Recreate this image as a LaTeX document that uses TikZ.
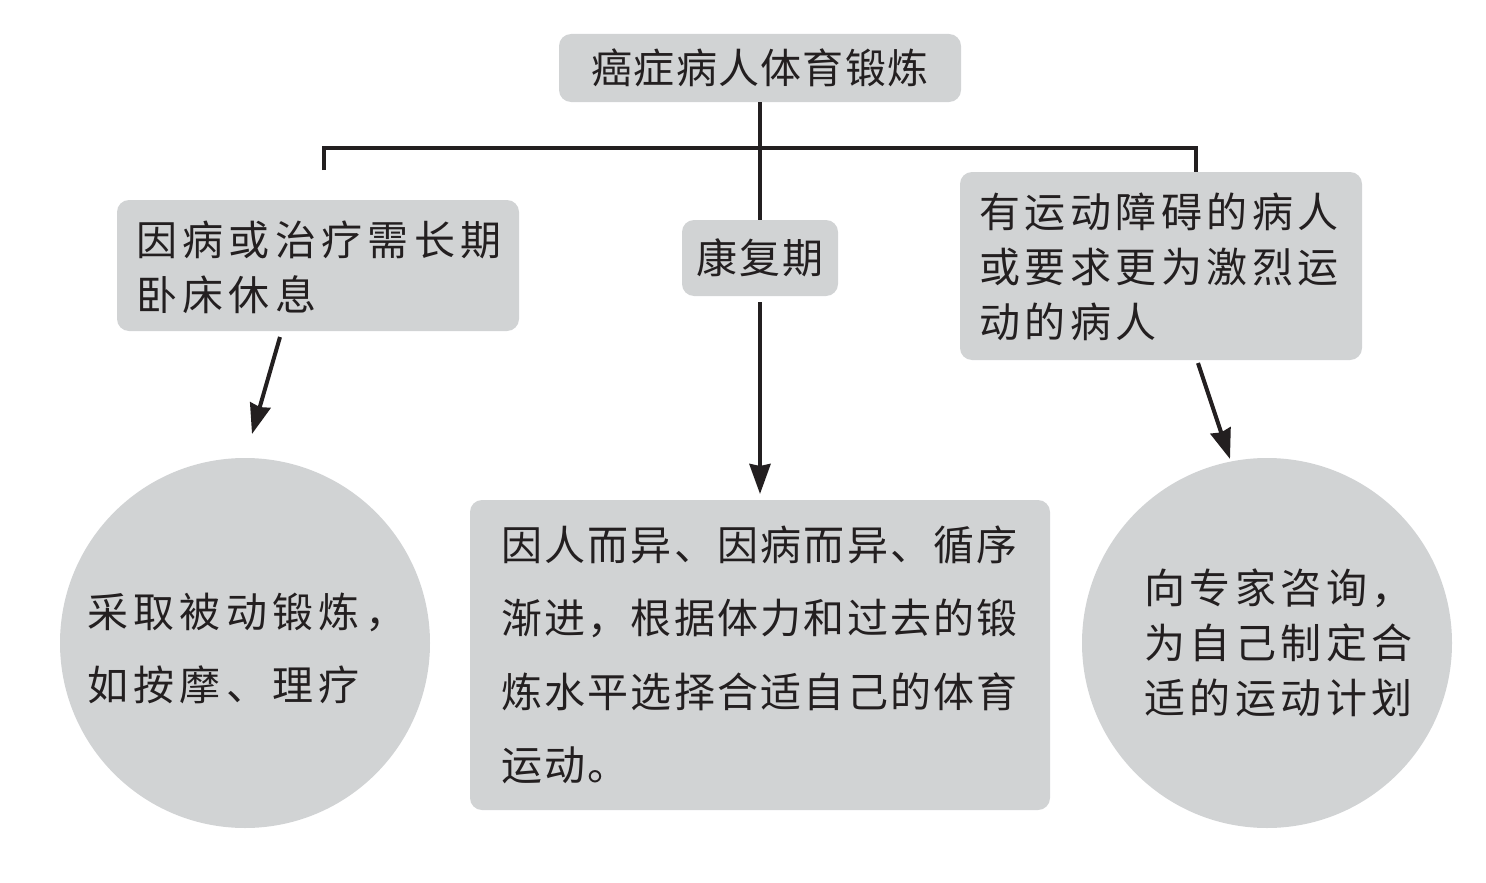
\documentclass[tikz,border=0pt]{standalone}
\usepackage{fontspec}
\usetikzlibrary{arrows.meta}
\newfontfamily\cjkA[LetterSpace=3]{Noto Sans CJK SC}
\newfontfamily\cjkB[LetterSpace=5.5]{Noto Sans CJK SC}
\newfontfamily\cjkC[LetterSpace=11]{Noto Sans CJK SC}
\newfontfamily\cjkD[LetterSpace=13]{Noto Sans CJK SC}
\definecolor{boxgray}{HTML}{D1D3D4}
\definecolor{ink}{HTML}{231F20}
\tikzset{
  shapebox/.style={fill=boxgray, draw=none, rounded corners=12pt, inner sep=0pt},
  roundshape/.style={fill=boxgray, draw=none, circle, inner sep=0pt, minimum size=370pt},
  txt/.style={text=ink, align=left, inner sep=0pt},
  conn/.style={draw=ink, line width=4pt},
  arr/.style={conn, -{Stealth[length=30pt,width=21pt,inset=2pt]}},
}
\begin{document}
\begin{tikzpicture}[x=1pt,y=-1pt]
\useasboundingbox (0,0) rectangle (1486,883);
% boxes
\node[shapebox, minimum width=402pt, minimum height=68pt] (top) at (760,68) {};
\node[txt, font=\cjkA\fontsize{41}{55}\selectfont] (toptxt) at (760,68) {癌症病人体育锻炼};

\node[shapebox, minimum width=402pt, minimum height=131pt] (left) at (318,265.5) {};
\node[txt, anchor=west, font=\cjkD\fontsize{41}{55}\selectfont] (lefttxt) at (136,267.5) {因病或治疗需长期\\卧床休息};

\node[shapebox, minimum width=156pt, minimum height=76pt] (kang) at (760,258) {};
\node[txt, font=\cjkB\fontsize{41}{55}\selectfont] (kangtxt) at (760,258) {康复期};

\node[shapebox, minimum width=402pt, minimum height=188pt] (right) at (1161,266) {};
\node[txt, anchor=west, font=\cjkC\fontsize{41}{55}\selectfont] (righttxt) at (979,267) {有运动障碍的病人\\或要求更为激烈运\\动的病人};

\node[roundshape] (lc) at (245,643) {};
\node[txt, anchor=west, font=\cjkD\fontsize{41}{73}\selectfont] (lctxt) at (87,648.5) {采取被动锻炼，\\如按摩、理疗};

\node[shapebox, minimum width=580pt, minimum height=310pt] (mid) at (760,655) {};
\node[txt, anchor=west, font=\cjkB\fontsize{41}{73.3}\selectfont] (midtxt) at (501,655) {因人而异、因病而异、循序\\渐进，根据体力和过去的锻\\炼水平选择合适自己的体育\\运动。};

\node[roundshape] (rc) at (1267,643) {};
\node[txt, anchor=west, font=\cjkC\fontsize{41}{55}\selectfont] (rctxt) at (1144,643) {向专家咨询，\\为自己制定合\\适的运动计划};

% connectors
\coordinate (bl) at (324,170);
\coordinate (blt) at (324,148);
\coordinate (brt) at (1196,148);
\draw[conn] (top.south) -- (kang.north);
\draw[conn] (bl) -- (blt) -- (brt) -- (brt |- right.north);

\coordinate (la) at (280,337);
\coordinate (lb) at (252,434);
\draw[arr] (la) -- (lb);
\coordinate (ma) at (760,302);
\coordinate (mb) at (760,494);
\draw[arr] (ma) -- (mb);
\coordinate (ra) at (1198,363);
\coordinate (rb) at (1230,459);
\draw[arr] (ra) -- (rb);
\end{tikzpicture}
\end{document}
